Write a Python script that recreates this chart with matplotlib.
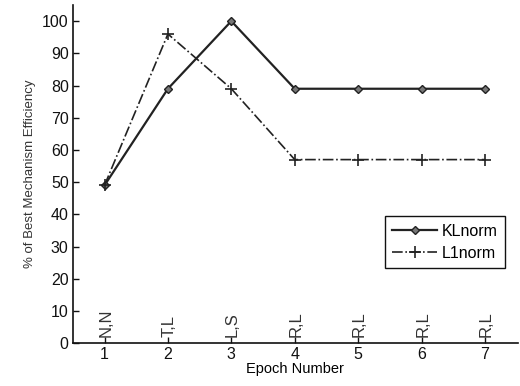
import matplotlib
matplotlib.use("Agg")
import matplotlib.pyplot as plt

epochs = [1, 2, 3, 4, 5, 6, 7]
kl_norm = [49, 79, 100, 79, 79, 79, 79]
l1_norm = [49, 96, 79, 57, 57, 57, 57]
epoch_tags = ["N,N", "T,L", "L,S", "R,L", "R,L", "R,L", "R,L"]
yticks = [0, 10, 20, 30, 40, 50, 60, 70, 80, 90, 100]

plt.rcParams['font.family'] = ['Liberation Sans', 'DejaVu Sans']

fig = plt.figure(figsize=(5.2, 3.86), dpi=100)
ax = fig.add_axes([0.140, 0.111, 0.856, 0.876])

c = '#222222'
ax.plot(epochs, kl_norm, '-', color=c, lw=1.6, marker='D', ms=4.5,
        mfc='#777777', mec=c, mew=1.0, label='KLnorm')
ax.plot(epochs, l1_norm, '-.', color=c, lw=1.2, marker='+', ms=8,
        mec=c, mew=1.2, label='L1norm')

for x, t in zip(epochs, epoch_tags):
    ax.text(x + 0.02, 1.8, t, rotation=90, ha='center', va='bottom', fontsize=12, color='#333333')

ax.set_xlim(0.5, 7.52)
ax.set_ylim(0, 105)
ax.set_xticks(epochs)
ax.set_yticks(yticks)
ax.tick_params(direction='in', length=4, width=1, labelsize=11.5, colors='#111111', pad=3)
ax.spines['top'].set_visible(False)
ax.spines['right'].set_visible(False)
for s in ('left', 'bottom'):
    ax.spines[s].set_linewidth(1.2)
    ax.spines[s].set_color('#111111')

ax.set_xlabel('Epoch Number', fontsize=10.5, labelpad=0)
ax.set_ylabel('% of Best Mechanism Efficiency', fontsize=9.5, labelpad=4, color='#333333')

leg = ax.legend(loc='lower right', bbox_to_anchor=(505 / 520, (386 - 268) / 386),
                bbox_transform=fig.transFigure, borderaxespad=0, fontsize=11.5,
                fancybox=False, framealpha=1, edgecolor='#111111',
                handlelength=2.8, borderpad=0.45, labelspacing=0.45, handletextpad=0.3)
leg.get_frame().set_linewidth(1.0)

fig.savefig('out.png', dpi=100)
